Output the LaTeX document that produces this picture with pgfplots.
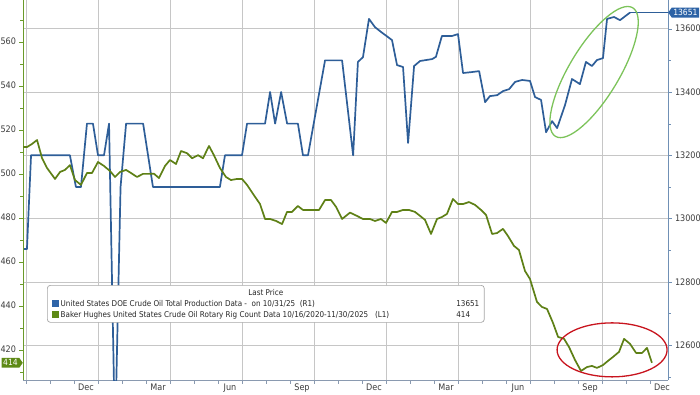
\documentclass[border=0pt]{standalone}
\usepackage{pgfplots}
\pgfplotsset{compat=1.18}
\usepackage{fontspec}
\setmainfont{DejaVu Sans Condensed}
\usetikzlibrary{shapes.geometric,shapes.symbols}
\definecolor{blueline}{HTML}{2E5E98}
\definecolor{greenline}{HTML}{5E8016}
\definecolor{greenaxis}{HTML}{6A9A2A}
\definecolor{blueaxis}{HTML}{7090B5}
\definecolor{axisgray}{HTML}{8A9AB0}
\definecolor{labgray}{HTML}{3C3C3C}
\definecolor{gridgray}{HTML}{C6C6C6}
\definecolor{tagblue}{HTML}{2D63A6}
\definecolor{taggreen}{HTML}{5E8A16}
\definecolor{ellgreen}{HTML}{7CC35A}
\definecolor{ellred}{HTML}{C8141E}
\definecolor{legblue}{HTML}{2E64A8}
\definecolor{leggreen}{HTML}{5E8A16}
\tikzset{gridline/.style={draw=gridgray, line width=0.6pt}}
\pgfplotsset{
  common/.style={
    at={(23pt,14pt)}, anchor=south west, scale only axis,
    width=645pt, height=380pt,
    xmin=-0.125, xmax=26.75,
    clip mode=individual,
    tick align=outside,
    major tick length=3.5pt, minor tick length=2.5pt,
    scaled y ticks=false,
    /pgf/number format/assume math mode=true,
    /pgf/number format/set thousands separator={},
    ticklabel style={font=\fontsize{9}{10}\selectfont, text=labgray},
  }
}
\begin{document}
\begin{tikzpicture}[x=1pt,y=1pt]
\path[use as bounding box] (0,0) rectangle (700,394);
% Right axis: production (blue)
\begin{axis}[common,
  ymin=12490, ymax=13690.7,
  axis x line*=bottom, axis y line*=right,
  x axis line style={-, draw=axisgray, line width=0.8pt},
  y axis line style={-, draw=blueaxis, line width=0.8pt},
  xtick style={draw=axisgray}, ytick style={draw=blueaxis},
  xtick={0,1,...,26}, xticklabels={},
  extra x ticks={2.5,5.5,...,26.5},
  extra x tick labels={Dec,Mar,Jun,Sep,Dec,Mar,Jun,Sep,Dec},
  extra x tick style={major tick length=0pt},
  ytick={12600,12800,...,13600}, minor ytick={12500,12700,...,13700},
]
\pgfplotsinvokeforeach{0,3,6,9,12,15,18,21,24}{
  \draw[gridline] (axis cs:#1,12490) -- (axis cs:#1,13690.7);
}
\pgfplotsinvokeforeach{12600,12800,13000,13200,13400,13600}{
  \draw[gridline] (axis cs:-0.125,#1) -- (axis cs:26.75,#1);
}
\addplot[blueline, line width=1.7pt, line join=round] coordinates {
(-0.125,12904) (0.04,12904) (0.21,13200) (1.83,13200) (2.08,13100) (2.29,13100)
(2.54,13300) (2.79,13300) (3.00,13200) (3.25,13200) (3.46,13300) (3.71,12300)
(3.94,13100) (4.17,13300) (4.88,13300) (5.29,13100) (8.08,13100) (8.29,13200)
(9.00,13200) (9.21,13300) (9.96,13300) (10.17,13400) (10.38,13300) (10.63,13400)
(10.88,13300) (11.33,13300) (11.54,13200) (11.75,13200) (12.46,13500) (13.17,13500)
(13.63,13200) (13.83,13495) (14.04,13510) (14.29,13631) (14.54,13605) (14.79,13590)
(15.25,13564) (15.46,13485) (15.71,13479) (15.92,13239) (16.17,13482) (16.42,13498)
(16.92,13504) (17.08,13511) (17.33,13577) (17.75,13577) (18.00,13583) (18.21,13460)
(18.58,13463) (18.88,13466) (19.13,13368) (19.33,13387) (19.63,13390) (19.88,13403)
(20.13,13409) (20.38,13432) (20.67,13438) (21.00,13435) (21.21,13384) (21.46,13375)
(21.67,13273) (21.92,13308) (22.13,13286) (22.46,13359) (22.75,13441) (23.08,13425)
(23.33,13495) (23.58,13482) (23.79,13501) (24.04,13507) (24.21,13631) (24.50,13637)
(24.75,13627) (25.08,13646) (25.17,13651)
};
\addplot[blueline, line width=1.7pt] coordinates {(25.17,13651) (26.75,13651)};
\node[draw=ellgreen, line width=1.3pt, ellipse, minimum width=150pt, minimum height=50pt,
  rotate=59, inner sep=0pt] at (axis cs:23.67,13463) {};
\node[signal, signal to=west, signal pointer angle=110, fill=tagblue, text=white,
  font=\fontsize{8.5}{9}\selectfont, inner xsep=1.5pt, inner ysep=1.8pt, anchor=west]
  at (axis cs:26.75,13651) {13651};
\end{axis}
% Left axis: rig count (green)
\begin{axis}[common,
  ymin=406.2, ymax=578.95,
  hide x axis, axis y line*=left,
  y axis line style={-, draw=greenaxis, line width=0.8pt},
  ytick style={draw=greenaxis},
  ytick={420,440,...,580}, minor ytick={410,430,...,570},
]
\addplot[greenline, line width=1.7pt, line join=round] coordinates {
(-0.125,512.1) (0.04,512.1) (0.25,513.5) (0.46,515.3) (0.67,507) (0.875,502.6)
(1.21,497.6) (1.42,500.8) (1.625,501.7) (1.83,503.9) (2.04,497.1) (2.29,494.9)
(2.54,500.3) (2.75,500.3) (3.00,505.3) (3.25,503.5) (3.50,501.2) (3.71,498.5)
(3.92,500.8) (4.17,501.7) (4.375,500.3) (4.625,498.5) (4.875,499.9) (5.08,499.9)
(5.33,500) (5.54,498) (5.79,503.5) (6.00,506.2) (6.25,504.4) (6.46,510.3)
(6.71,509.3) (6.92,507) (7.17,508.4) (7.375,507) (7.625,512.6) (7.83,508.4)
(8.08,502.6) (8.33,498.5) (8.54,497.1) (8.79,497.6) (9.00,497.6) (9.21,494.9)
(9.46,490.8) (9.75,486.2) (9.96,479.4) (10.17,479.4) (10.42,478.5) (10.67,477.1)
(10.875,482.6) (11.08,482.6) (11.33,485.3) (11.54,483.5) (11.79,483.5) (12.21,483.5)
(12.46,488.0) (12.71,488.0) (12.92,484.9) (13.17,479.4) (13.5,482.3) (13.79,480.8)
(14.04,479.4) (14.33,479.4) (14.54,478.5) (14.79,479.4) (15.00,477.6) (15.25,482.6)
(15.46,482.6) (15.71,483.5) (15.96,483.5) (16.21,482.6) (16.42,480.8) (16.625,479.0)
(16.875,472.6) (17.125,479.4) (17.33,480.3) (17.54,481.7) (17.79,488.5) (18.00,486.2)
(18.21,486.2) (18.46,487.1) (18.71,485.8) (18.96,483.5) (19.17,481.2) (19.42,472.6)
(19.625,473.0) (19.875,474.9) (20.08,471.7) (20.33,467.2) (20.54,465.3) (20.79,455.8)
(21.00,452.1) (21.29,441.7) (21.5,439.4) (21.71,438.5) (21.96,432.1) (22.17,425.8)
(22.42,424.9) (22.625,421.2) (22.875,415.3) (23.125,410.3) (23.375,412.1) (23.58,412.6)
(23.79,411.7) (24.04,413.0) (24.25,414.9) (24.46,416.7) (24.71,419.0) (24.92,424.9)
(25.17,422.6) (25.42,418.5) (25.67,418.5) (25.875,420.8) (26.08,414)
};
\node[draw=ellred, line width=1.3pt, ellipse, minimum width=110pt, minimum height=54pt,
  inner sep=0pt] at (axis cs:24.42,419.9) {};
\node[signal, signal to=east, signal pointer angle=110, fill=taggreen, text=white,
  font=\fontsize{8.5}{9}\selectfont, inner xsep=1.5pt, inner ysep=1.8pt, anchor=east]
  at (axis cs:-0.125,414) {414};
\end{axis}
% Legend
\node[draw=gray!70, fill=white, rounded corners=3pt, line width=0.7pt,
  inner xsep=5pt, inner ysep=2pt, anchor=north west,
  font=\fontsize{8}{11}\selectfont, text=black!85]
  at (47,109) {%
  \begin{tabular}{@{}p{404pt}@{}l@{}}
  \multicolumn{2}{c}{Last Price}\\
  \textcolor{legblue}{\raisebox{-0.5pt}{\rule{7pt}{7pt}}}\,United States DOE Crude Oil Total Production Data -\ \ on 10/31/25\ \ (R1) & 13651\\
  \textcolor{leggreen}{\raisebox{-0.5pt}{\rule{7pt}{7pt}}}\,Baker Hughes United States Crude Oil Rotary Rig Count Data 10/16/2020-11/30/2025\ \ \ (L1) & 414
  \end{tabular}};
\end{tikzpicture}
\end{document}
